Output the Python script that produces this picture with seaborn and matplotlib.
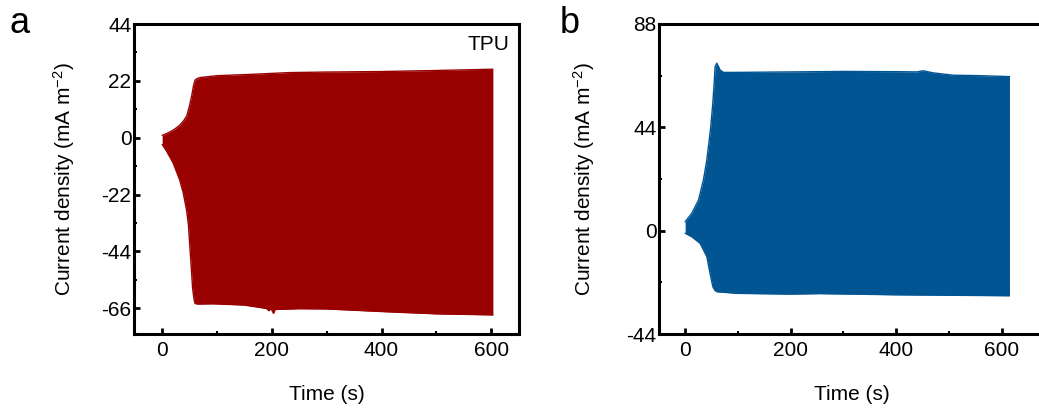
import numpy as np
import pandas as pd
import matplotlib
matplotlib.use("Agg")
import matplotlib.pyplot as plt
import seaborn as sns

# ---------------- data (envelope of the dense oscillating current) ----------------
# Panel a (TPU)
a_upper_t = [0, 5, 14, 22, 32, 40, 45, 50, 54, 57, 60, 65, 70, 100, 150, 233, 300, 400, 500, 603]
a_upper_v = [0.9, 1.3, 2.2, 3.2, 4.8, 6.8, 8.5, 12.5, 16.4, 20.0, 22.3, 23.0, 23.3, 24.0, 24.4, 25.2, 25.4, 25.6, 26.0, 26.5]
a_lower_t = [0, 8, 20, 32, 38, 44.5, 48, 50.6, 53, 55.5, 58, 60, 65, 93, 150, 190, 195, 198, 203, 206, 250, 300, 400, 500, 603]
a_lower_v = [-2.6, -5.2, -9.8, -16.4, -21.0, -28.0, -34.0, -42.6, -50.0, -58.3, -62.5, -64.2, -64.4, -64.3, -64.8,
             -66.1, -67.0, -66.0, -68.0, -66.5, -66.2, -66.3, -67.3, -68.2, -68.6]

# Panel b
b_upper_t = [0, 12.6, 18.9, 25.3, 34.7, 41, 44.2, 48.6, 52.4, 55, 56.8, 60, 63, 66.3, 72.6, 100, 200, 300, 400, 440, 451, 470, 508, 560, 615]
b_upper_v = [3.8, 7.4, 10.2, 13.0, 21.6, 30.0, 35.8, 44.3, 54.2, 62.7, 69.8, 71.3, 70.0, 68.4, 67.4, 67.4, 67.6, 67.8, 67.7, 67.6, 68.1, 67.2, 66.2, 66.0, 65.6]
b_lower_t = [0, 12.6, 28.4, 41, 47.3, 52.4, 56, 60, 100, 200, 256, 400, 500, 615]
b_lower_v = [-1.1, -2.6, -5.4, -11.0, -18.2, -23.8, -25.3, -26.0, -26.7, -27.0, -26.8, -27.3, -27.5, -27.7]

a_yticks = [-66, -44, -22, 0, 22, 44]
b_yticks = [-44, 0, 44, 88]
xticks = [0, 200, 400, 600]

# ---------------- style ----------------
sns.set_theme(style="ticks")
plt.rcParams['font.family'] = ['Liberation Sans', 'DejaVu Sans']
plt.rcParams['mathtext.fontset'] = 'custom'
plt.rcParams['mathtext.rm'] = 'Liberation Sans'
plt.rcParams['mathtext.it'] = 'Liberation Sans:italic'
plt.rcParams['mathtext.bf'] = 'Liberation Sans:bold'
plt.rcParams['axes.unicode_minus'] = False
for k in ['text.color', 'axes.labelcolor', 'xtick.color', 'ytick.color', 'axes.edgecolor']:
    plt.rcParams[k] = 'black'

RED = "#990000"
BLUE = "#025593"

fig = plt.figure(figsize=(10.39, 4.12), dpi=100)
W, H = 1039, 412
bottom_px, top_px = 334, 24
ax_w = 385
axa = fig.add_axes([134.2 / W, 1 - bottom_px / H, ax_w / W, (bottom_px - top_px) / H])
axb = fig.add_axes([659.3 / W, 1 - bottom_px / H, ax_w / W, (bottom_px - top_px) / H])


def draw(ax, ut, uv, lt, lv, color):
    grid = np.union1d(ut, lt)
    up = np.interp(grid, ut, uv)
    lo = np.interp(grid, lt, lv)
    df = pd.DataFrame({"t": np.concatenate([grid, grid]),
                       "v": np.concatenate([up, lo]),
                       "edge": ["upper"] * len(grid) + ["lower"] * len(grid)})
    ax.fill_between(grid, lo, up, color=color, linewidth=0)
    sns.lineplot(data=df, x="t", y="v", units="edge", estimator=None,
                 color=color, linewidth=1.0, ax=ax, legend=False)


draw(axa, a_upper_t, a_upper_v, a_lower_t, a_lower_v, RED)
draw(axb, b_upper_t, b_upper_v, b_lower_t, b_lower_v, BLUE)

axa.set_xlim(-51, 651)
axa.set_ylim(-76, 44)
axa.set_yticks(a_yticks)
axa.set_yticks([-55, -33, -11, 11, 33], minor=True)
axb.set_xlim(-49, 681)
axb.set_ylim(-44, 88)
axb.set_yticks(b_yticks)
axb.set_yticks([-22, 22, 66], minor=True)

for ax in (axa, axb):
    ax.set_xticks(xticks)
    ax.set_xticks([100, 300, 500], minor=True)
    for s in ax.spines.values():
        s.set_linewidth(2.2)
        s.set_color('black')
        s.set_visible(True)
    ax.tick_params(which='major', direction='in', length=4, width=2, labelsize=15, color='black', labelcolor='black')
    ax.tick_params(which='minor', direction='in', length=2.5, width=1.5, color='black')
    ax.tick_params(axis='y', which='major', pad=2)
    ax.tick_params(axis='x', which='major', pad=5)
    ax.set_xlabel("Time (s)", fontsize=15, color='black')
    ax.set_ylabel("Current density (mA m$^{-2}$)", fontsize=15, color='black')
    ax.xaxis.set_label_coords(0.5, -0.165)
    ax.grid(False)

axa.yaxis.set_label_coords(-0.149, 0.5)
axb.yaxis.set_label_coords(-0.161, 0.5)

axa.text(0.975, 0.965, "TPU", transform=axa.transAxes, ha='right', va='top', fontsize=15, color='black')

fig.text(9.6 / W, 1 - 33 / H, "a", fontsize=26, ha='left', va='baseline', color='black')
fig.text(560 / W, 1 - 33 / H, "b", fontsize=26, ha='left', va='baseline', color='black')

fig.savefig("out.png", dpi=100)
